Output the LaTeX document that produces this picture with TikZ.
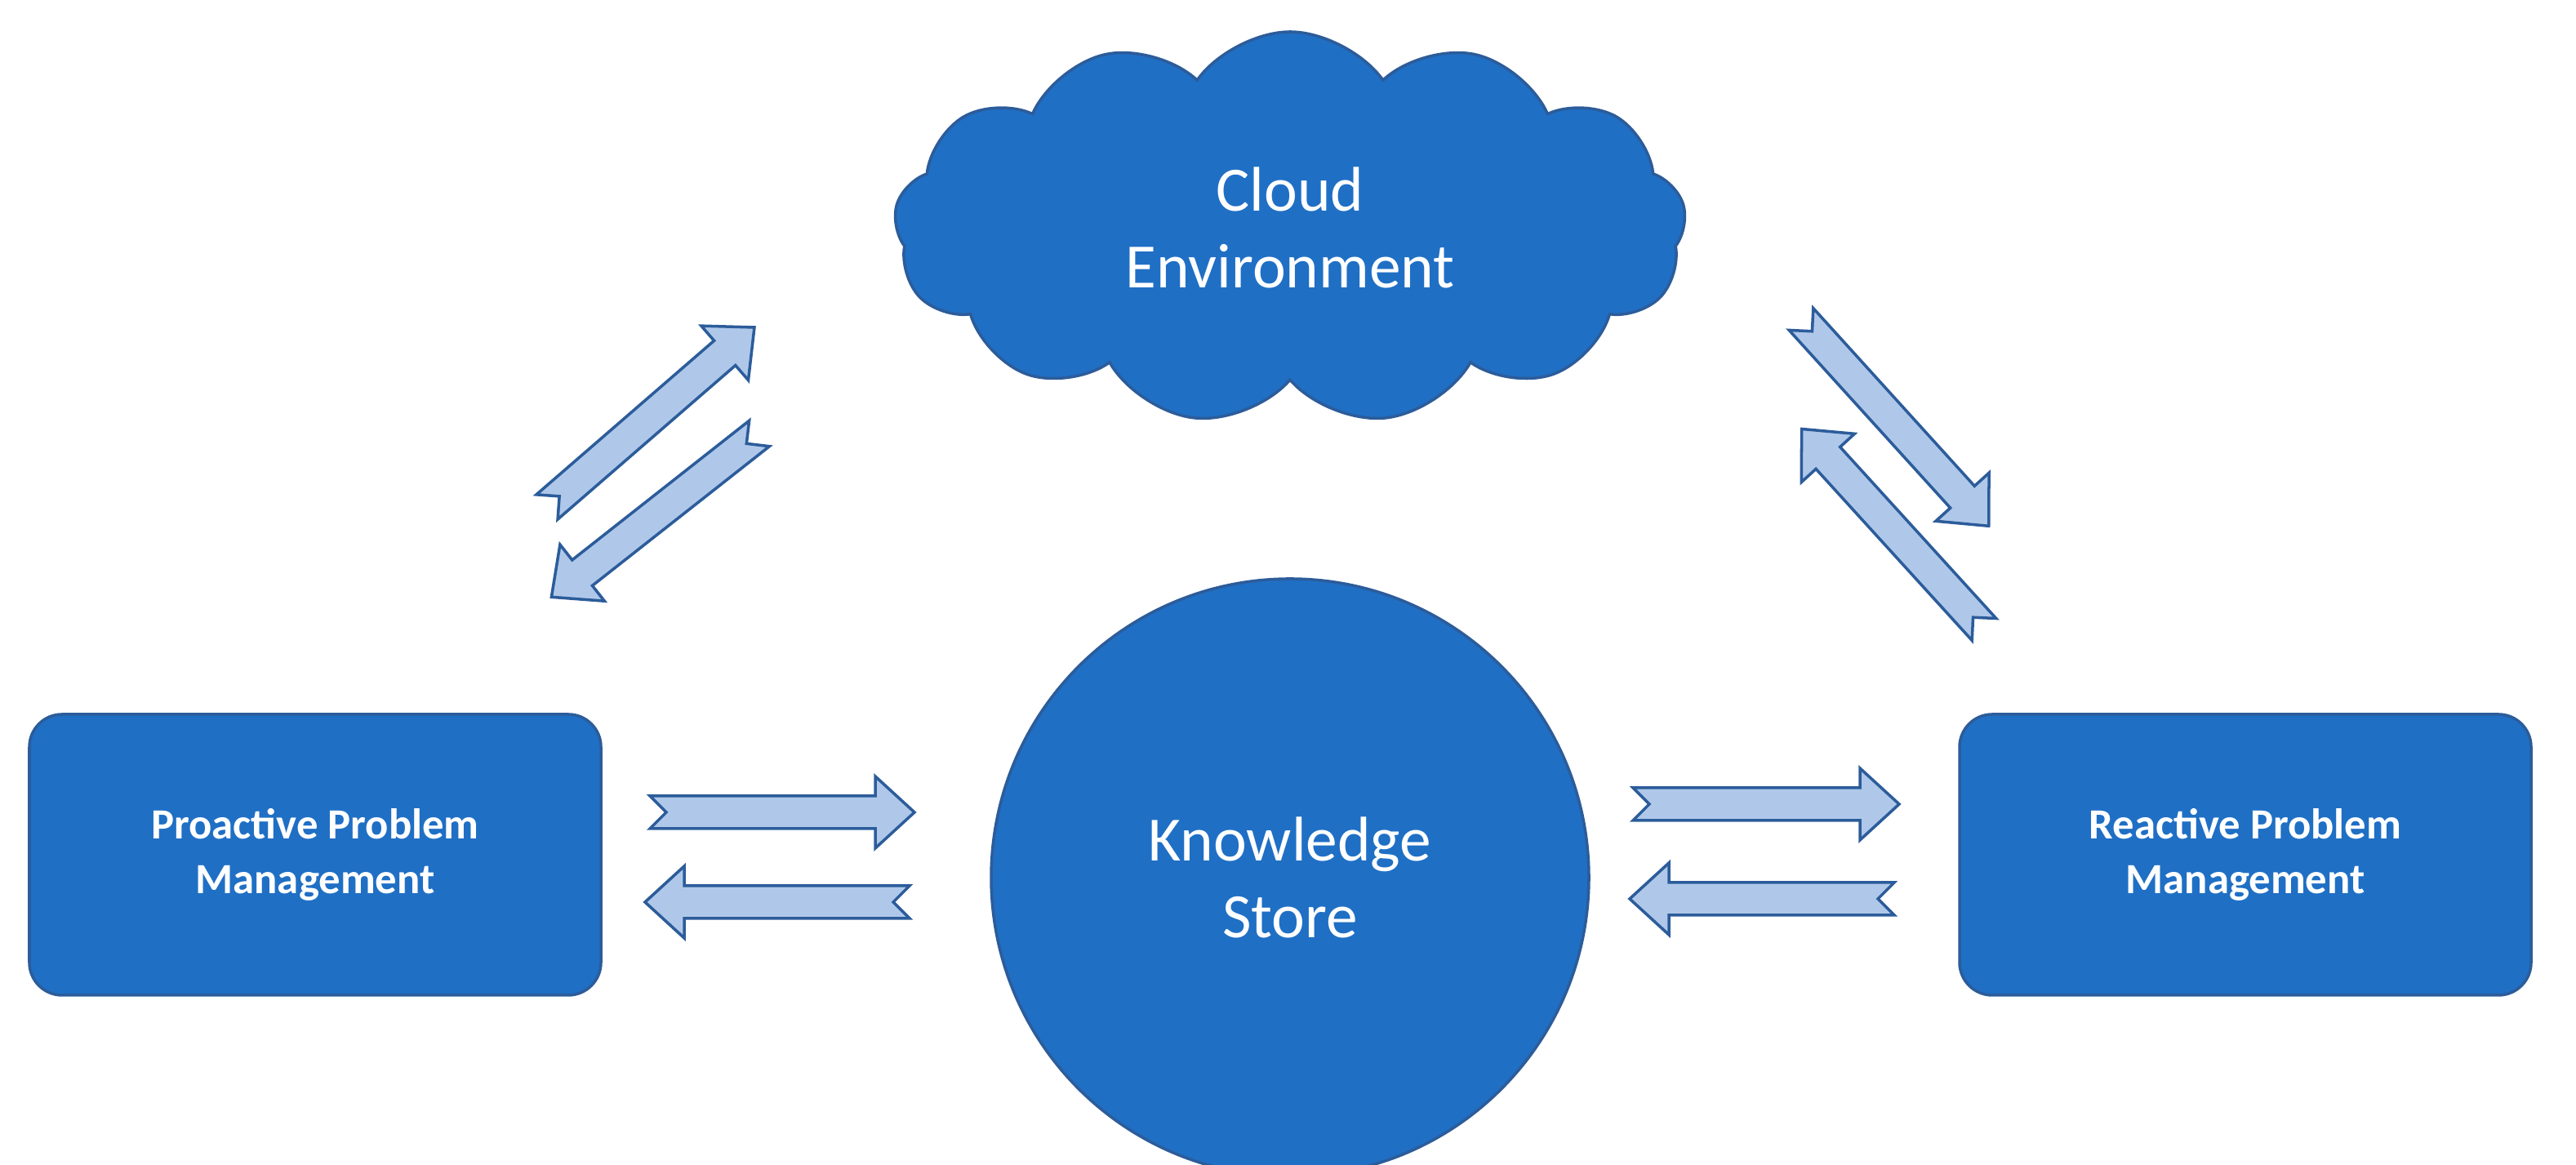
\documentclass[tikz,border=0pt]{standalone}
\usepackage{fontspec}
\setmainfont{Carlito}
\usetikzlibrary{shapes.symbols}
\definecolor{mainblue}{HTML}{1F6FC5}
\definecolor{edgeblue}{HTML}{2C5C9A}
\definecolor{lightblue}{HTML}{AFC8EA}
\tikzset{
  blk/.style={fill=mainblue,draw=edgeblue,line width=1pt,text=white},
  arr/.style={fill=lightblue,draw=edgeblue,line width=1pt,line join=miter}
}
% #1 start x, #2 start y, #3 angle, #4 length
\newcommand\myarrow[4]{%
  \draw[arr,shift={(#1,#2)},rotate=#3] (0,-10) -- (#4-24,-10) -- (#4-24,-22) -- (#4,0) -- (#4-24,22) -- (#4-24,10) -- (0,10) -- (10,0) -- cycle;}
\begin{document}
\begin{tikzpicture}[x=0.02cm,y=0.02cm]
\useasboundingbox (0,0) rectangle (1577.5,713.5);
\node[blk,cloud,cloud puffs=13,cloud puff arc=110,aspect=2,minimum width=485*0.02cm,minimum height=240*0.02cm,font=\fontsize{22}{27}\selectfont,align=center] (cloud) at (790,574) {Cloud\\Environment};
\node[blk,rounded corners=0.4cm,minimum width=350*0.02cm,minimum height=172*0.02cm,font=\bfseries\fontsize{15}{19}\selectfont,align=center] (pro) at (193,190) {Proactive Problem\\Management};
\node[blk,rounded corners=0.4cm,minimum width=350*0.02cm,minimum height=172*0.02cm,font=\bfseries\fontsize{15}{19}\selectfont,align=center] (rea) at (1375,190) {Reactive Problem\\Management};
\node[blk,circle,minimum size=366*0.02cm,font=\fontsize{22}{27}\selectfont,align=center] (ks) at (790,176) {Knowledge\\Store};
% horizontal arrows
\myarrow{398}{216}{0}{162}
\myarrow{557}{161}{180}{162}
\myarrow{1000}{221}{0}{163}
\myarrow{1160}{163}{180}{162}
% diagonal arrows
\myarrow{335}{403}{40.9}{168}
\myarrow{465}{448}{218.2}{162}
\myarrow{1103}{518}{-47.8}{171}
\myarrow{1215}{328}{132.3}{166}
\end{tikzpicture}
\end{document}
